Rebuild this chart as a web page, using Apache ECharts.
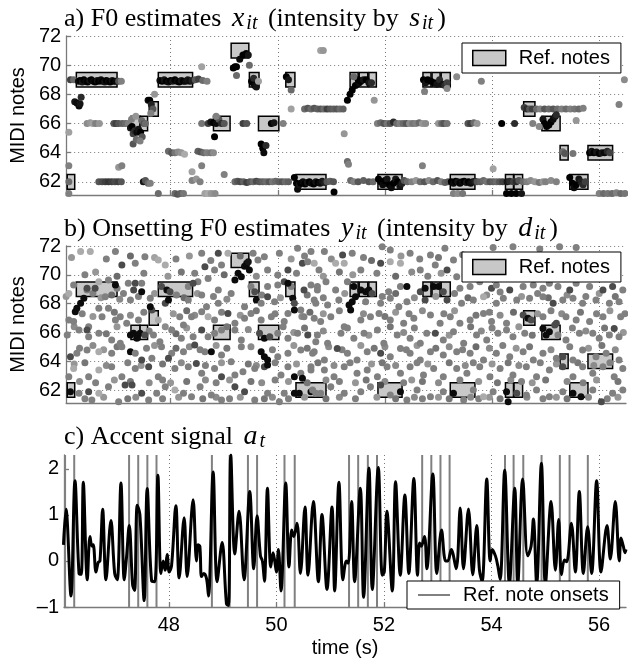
<!DOCTYPE html>
<html><head><meta charset="utf-8">
<script src="https://cdn.jsdelivr.net/npm/echarts@6/dist/echarts.min.js"></script>
<style>html,body{margin:0;padding:0;background:#fff}#c{width:628px;height:659px}</style>
</head><body><div id="c"></div>
<script>
// ---------- data ----------
const xTicks = [48, 50, 52, 54, 56];
const pitchTicks = [62, 64, 66, 68, 70, 72];
const accentTicks = [-1, 0, 1, 2];

// reference notes: [start (s), end (s), MIDI pitch]
const refNotes = [
  [46.07,46.21,62],[46.24,47.00,69],[47.26,47.43,66],[47.43,47.57,66],[47.60,47.77,67],
  [47.77,48.41,69],[48.80,49.11,66],[49.13,49.46,71],[49.47,49.65,69],[49.64,50.02,66],
  [50.15,50.32,69],[50.34,50.90,62],[51.35,51.50,69],[51.52,51.68,69],[51.70,51.84,69],
  [51.87,52.32,62],[52.71,52.86,69],[52.88,53.03,69],[53.05,53.22,69],[53.22,53.68,62],
  [54.25,54.40,62],[54.41,54.57,62],[54.59,54.80,67],[54.93,55.27,66],[55.27,55.42,64],
  [55.45,55.79,62],[55.79,56.25,64]
];
const onsets = refNotes.map(n => n[0]);

// a) F0 estimates: [time, pitch, intensity s]
const f0Est = [
[46.04,69.0,0.4],[46.13,69.0,0.7],[46.19,69.0,0.5],
[46.28,68.9,0.95],[46.31,68.95,1],[46.35,68.85,0.9],[46.38,69.0,1],[46.42,68.9,0.95],[46.45,68.85,1],[46.49,68.95,0.9],[46.52,69.0,1],[46.56,68.9,0.95],[46.59,68.85,1],[46.63,68.95,0.9],[46.66,68.9,1],[46.70,69.0,0.95],[46.73,68.9,1],[46.77,68.85,0.9],[46.80,68.95,1],[46.84,68.9,0.95],[46.87,68.85,1],[46.91,68.95,0.9],[46.94,68.9,1],[46.98,68.9,0.95],
[47.03,68.9,0.6],[47.08,68.9,0.4],
[46.21,67.5,0.9],[46.25,67.4,0.95],[46.29,67.2,0.95],[46.31,67.35,0.9],[46.33,67.8,0.8],
[46.44,66.0,0.35],[46.5,66.05,0.3],[46.55,66.0,0.25],[46.6,66.0,0.4],[46.67,66.0,0.3],
[46.94,66.0,0.6],[46.98,66.0,0.7],[47.03,66.0,0.6],[47.1,66.0,0.55],[47.16,66.0,0.5],[47.21,66.0,0.4],
[47.25,65.7,0.9],[47.28,65.8,1],[47.3,65.3,0.7],[47.33,65.5,0.8],[47.37,65.4,0.95],[47.4,65.6,0.9],[47.44,65.4,1],[47.47,65.1,0.6],[47.3,64.6,0.6],[47.36,64.9,0.5],[47.43,64.8,0.4],[47.27,66.3,0.4],[47.35,66.5,0.3],[47.46,66.2,0.5],[47.5,66.0,0.6],[47.53,66.0,0.5],
[47.58,67.6,0.95],[47.61,67.6,1],[47.64,67.3,0.85],[47.67,67.0,0.6],[47.7,68.0,0.3],[47.63,66.7,0.4],
[47.80,68.95,0.95],[47.84,68.9,1],[47.88,69.0,0.9],[47.92,68.9,1],[47.96,68.85,0.95],[48.0,68.95,1],[48.04,68.9,0.9],[48.08,69.0,1],[48.12,68.9,0.95],[48.16,68.85,1],[48.20,68.95,0.9],[48.24,68.9,1],[48.28,68.9,0.95],[48.32,69.0,0.9],[48.36,68.9,0.95],[48.40,68.95,0.85],
[48.46,69.0,0.6],[48.52,69.05,0.7],[48.6,68.95,0.5],[48.68,68.9,0.4],
[46.66,62.0,0.6],[46.72,62.0,0.65],[46.78,62.0,0.7],[46.84,62.0,0.75],[46.9,62.0,0.7],[46.96,62.0,0.65],[47.02,62.0,0.7],[47.08,62.0,0.6],
[47.49,62.0,0.9],[47.53,62.1,0.6],[47.58,61.9,0.5],[47.62,61.9,0.4],
[46.1,62.0,0.5],[46.1,63.1,0.4],[46.1,65.4,0.25],[46.1,61.2,0.4],
[47.03,63.0,0.3],[47.09,63.1,0.4],
[47.96,64.1,0.5],[48.02,64.0,0.6],[48.08,64.0,0.45],[48.14,64.05,0.35],[48.2,64.0,0.3],[48.26,63.9,0.2],
[48.51,64.1,0.55],[48.56,64.05,0.6],[48.62,64.0,0.5],[48.68,64.0,0.4],[48.75,64.0,0.45],[48.8,64.0,0.35],
[47.77,61.2,0.5],[48.08,61.2,0.5],[48.13,61.15,0.6],[48.18,61.2,0.55],[48.24,61.2,0.45],[48.64,61.2,0.25],[48.7,61.2,0.2],[48.76,61.2,0.3],[48.83,61.2,0.35],
[48.4,62.1,0.4],[48.48,62.2,0.3],[48.55,62.0,0.4],
[49.2,62.0,0.5],[49.25,62.05,0.6],[49.3,62.0,0.65],[49.36,62.0,0.55],[49.42,61.95,0.7],[49.48,62.0,0.6],[49.54,62.0,0.5],[49.6,62.05,0.65],[49.66,62.0,0.6],[49.72,62.0,0.55],[49.78,62.0,0.5],[49.84,62.0,0.6],[49.9,62.0,0.45],[49.96,62.05,0.5],[50.02,62.0,0.55],[50.08,62.0,0.6],[50.14,62.0,0.5],[50.2,62.0,0.55],
[48.58,69.9,0.25],[48.58,66.0,0.45],
[48.7,66.0,0.7],[48.75,66.1,0.9],[48.8,66.05,1],[48.85,66.0,0.95],[48.9,66.3,0.6],[48.95,66.0,0.8],[49.0,66.0,0.6],[48.85,66.5,0.4],
[49.35,66.0,0.7],[49.42,66.0,0.6],[50.1,66.0,0.4],
[48.82,65.1,1],[49.0,62.5,0.4],[48.58,63.1,0.4],[48.4,62.7,0.25],
[49.17,69.8,1],[49.2,69.9,1],[49.23,69.9,1],[49.29,70.4,0.95],[49.35,70.7,1],[49.41,70.8,1],[49.45,70.7,0.9],[49.23,69.3,0.5],[49.47,70.0,0.5],
[49.51,68.9,1],[49.54,68.8,1],[49.57,68.6,0.95],[49.6,68.5,0.9],[49.55,69.1,0.8],
[49.64,68.9,0.25],
[49.69,64.6,1],[49.72,64.3,1],[49.74,64.0,0.95],[49.78,64.5,0.8],
[49.88,66.0,1],[49.93,66.05,0.9],
[50.16,69.2,1],[50.2,69.0,0.9],[50.25,68.3,0.5],[50.25,67.0,0.25],
[50.31,62.3,1],[50.35,61.9,1],[50.37,61.5,0.95],[50.4,61.8,0.9],
[50.43,61.9,1],[50.47,62.0,0.95],[50.51,61.85,1],[50.55,61.95,0.9],[50.59,62.0,1],[50.63,61.9,0.95],[50.67,61.85,1],[50.71,62.0,0.9],[50.75,61.95,1],[50.79,61.9,0.95],[50.83,62.05,0.9],[50.87,61.95,0.85],
[50.8,71.0,0.25],[50.85,71.0,0.3],
[50.5,67.0,0.5],[50.56,67.05,0.6],[50.62,67.0,0.5],[50.68,67.05,0.6],[50.74,67.0,0.55],[50.8,67.0,0.6],[50.86,67.0,0.5],[50.92,67.0,0.7],[50.98,67.0,0.6],[51.04,67.0,0.55],[51.1,67.0,0.6],[51.16,67.0,0.5],[51.22,67.0,0.55],
[51.3,67.6,1],[51.35,68.0,1],[51.39,68.3,1],[51.45,68.6,1],[51.52,68.8,0.95],
[51.5,69.0,1],[51.55,68.9,1],[51.6,69.0,0.9],[51.65,69.0,1],[51.7,68.8,0.9],[51.75,68.8,0.8],[51.42,69.2,0.5],
[51.8,67.6,0.3],[51.24,65.3,0.3],[51.3,63.4,0.5],[51.32,63.2,0.4],
[50.92,62.0,0.6],[50.98,62.05,0.55],[51.04,62.0,0.6],[51.36,62.1,0.5],[51.42,62.0,0.4],[51.5,62.0,0.6],[51.6,62.1,0.55],[51.7,62.0,0.6],[51.78,62.0,0.5],
[51.88,62.2,1],[51.92,62.0,1],[51.96,61.8,0.95],[52.0,62.1,1],[52.04,62.2,0.9],[52.08,61.8,1],[52.12,61.6,0.95],[52.16,61.9,1],[52.2,62.2,0.9],[52.24,62.0,1],[52.28,61.7,0.9],[52.32,61.9,0.85],
[52.36,62.1,0.6],[52.42,62.0,0.5],[51.05,61.3,1],
[51.86,66.0,0.4],[51.92,66.05,0.5],[51.98,66.0,0.6],[52.04,66.0,0.45],[52.1,66.0,0.6],[52.16,66.1,0.8],[52.22,66.0,0.5],[52.28,66.0,0.4],[52.34,66.0,0.5],[52.4,66.0,0.6],[52.46,66.0,0.35],[52.52,66.0,0.45],[52.58,66.0,0.4],[52.64,66.05,0.5],[52.7,66.0,0.3],[52.76,66.0,0.35],[53.0,66.0,0.3],[53.06,66.0,0.5],[53.1,66.0,0.6],[53.16,66.0,0.45],[53.55,66.0,0.6],[53.6,66.0,0.7],[53.66,66.05,0.5],[53.72,66.0,0.3],[54.18,66.0,1],[54.42,66.0,0.8],
[52.72,69.0,1],[52.76,68.8,0.9],[52.8,69.0,1],[52.86,68.9,1],[52.92,68.8,1],[52.97,68.7,0.9],[53.02,69.0,0.8],[53.08,68.7,0.9],[53.12,68.6,0.8],[53.16,68.8,0.7],[52.74,68.2,0.4],[53.16,68.4,0.35],[53.34,69.2,0.35],[53.8,68.9,0.4],
[52.5,62.0,0.4],[52.58,62.1,0.3],[52.66,62.0,0.5],[52.74,62.0,0.6],[52.82,62.1,0.35],[52.9,62.0,0.5],[52.98,62.1,0.6],[53.05,62.0,0.4],[53.12,61.95,0.55],[53.18,62.0,0.6],
[53.24,62.0,1],[53.28,61.9,0.95],[53.32,62.05,1],[53.36,62.0,0.9],[53.4,61.9,1],[53.44,62.0,0.95],[53.48,62.05,1],[53.52,61.95,0.9],[53.56,62.0,1],[53.6,61.9,0.95],[53.64,62.0,0.9],[53.68,62.05,0.85],
[53.72,62.0,0.6],[53.78,62.0,0.55],[53.84,62.1,0.5],[53.9,62.0,0.45],[53.96,62.0,0.6],[54.02,62.0,0.55],[54.08,62.0,0.5],[54.14,62.0,0.6],[54.2,62.0,0.7],
[54.28,62.0,0.9],[54.33,62.05,0.8],[54.4,62.0,0.7],[54.45,62.0,0.8],[54.5,62.1,0.6],[54.58,62.0,0.5],[54.65,62.0,0.4],[54.72,62.1,0.35],[54.8,62.0,0.3],[54.88,61.95,0.45],[54.95,62.0,0.3],
[54.02,62.9,0.25],[52.7,63.1,0.4],
[53.28,61.2,0.4],[53.36,61.2,0.35],[53.45,61.2,0.45],[54.27,61.2,1],[54.36,61.2,1],[54.45,61.2,1],[54.55,61.2,0.9],
[54.6,67.1,0.7],[54.65,67.0,0.8],[54.7,67.0,0.6],[54.75,67.0,0.7],
[54.83,67.0,0.5],[54.9,67.0,0.4],[54.98,67.0,0.6],[55.06,67.0,0.5],[55.14,67.0,0.6],[55.22,67.0,0.5],[55.3,67.0,0.4],[55.38,67.0,0.5],[55.46,67.0,0.4],[55.54,67.0,0.45],[55.62,67.0,0.5],[55.7,67.05,0.4],
[54.95,66.3,0.9],[54.98,66.0,1],[55.02,65.8,1],[55.06,65.9,1],[55.1,66.1,1],[55.14,66.3,0.95],[55.18,66.5,0.9],[55.2,66.6,0.8],
[54.76,66.0,0.4],[54.88,65.8,0.35],[55.57,66.2,0.3],
[55.32,64.06,0.5],[55.36,63.95,0.6],[55.51,63.95,0.45],
[55.82,64.0,1],[55.86,64.1,0.9],[55.9,64.0,1],[55.95,64.05,0.9],[56.0,63.95,1],[56.05,64.0,0.9],[56.1,64.0,0.95],[56.15,64.1,0.8],[56.2,64.0,0.7],
[55.45,62.3,1],[55.5,61.9,1],[55.53,61.6,0.95],[55.57,61.8,1],[55.62,62.2,0.9],[55.66,62.0,0.85],[55.7,61.8,0.8],[55.74,62.0,0.7],
[55.0,62.0,0.4],[55.1,62.1,0.35],[55.2,62.0,0.4],
[56.0,61.2,0.4],[56.08,61.2,0.5],[56.16,61.2,0.45],[56.24,61.2,0.5],[56.32,61.25,0.4],[56.4,61.2,0.5],[56.48,61.2,0.45],
[56.47,69.0,0.35],[56.37,67.3,0.4]
];

// b) onsetting F0 estimates: [time, pitch, intensity d]
const onsetEst = [
[46.32,71.61,0.2],[46.50,71.61,0.2],[46.97,71.61,0.4],[47.52,71.26,0.4],[48.58,71.49,0.4],[48.89,71.49,0.65],[49.07,71.49,0.2],[49.54,71.49,0.4],[49.75,71.26,0.4],[50.03,71.49,0.4],[50.37,71.84,0.4],[50.62,71.61,0.4],
[47.09,70.68,0.65],[47.34,70.80,0.4],[47.77,71.03,0.2],[47.90,70.68,0.2],[48.45,70.10,0.4],[48.64,70.56,0.65],[48.82,70.33,0.4],[48.95,70.68,0.4],[49.63,71.03,0.4],[49.81,70.33,0.4],[50.0,69.99,0.4],[50.19,70.33,0.65],[50.46,70.80,0.65],[50.56,70.91,0.4],[50.68,70.80,0.2],
[46.19,69.29,0.4],[46.44,68.94,0.4],[46.66,69.52,0.2],[46.84,69.64,0.4],[47.0,69.06,0.4],[47.21,69.41,0.4],[47.34,69.41,0.65],[47.46,69.41,0.4],[48.33,69.18,0.4],[48.51,69.52,0.4],[48.70,69.75,0.4],[48.89,68.94,0.4],
[49.20,69.64,0.95],[49.26,70.1,0.95],[49.32,69.87,0.95],[49.38,70.6,0.95],[49.42,70.8,0.95],[49.45,70.9,0.9],[49.47,70.33,0.95],
[49.50,69.18,0.4],[49.81,69.18,0.4],[50.0,69.29,0.4],[50.12,69.52,0.65],[50.25,69.18,0.4],[50.49,68.94,0.65],[50.74,69.18,0.4],
[46.10,68.71,0.2],[46.32,68.02,0.95],[46.38,68.37,0.95],[46.44,69.06,0.65],[46.59,69.06,0.65],[46.78,68.48,0.4],[46.97,69.29,0.95],[47.12,68.71,0.4],[47.25,68.25,0.4],[47.31,68.94,0.65],[47.46,68.83,0.95],[47.62,68.37,0.4],[47.83,69.18,0.65],[47.93,68.94,0.95],[47.99,68.83,0.65],[48.11,68.60,0.4],[48.33,68.25,0.4],[48.42,69.41,0.65],[48.58,68.60,0.4],[48.67,67.79,0.4],[48.89,68.02,0.4],[49.13,68.71,0.4],[49.38,67.79,0.4],[49.57,68.83,0.65],[49.60,68.25,0.95],[49.69,68.02,0.4],[49.81,68.48,0.65],[49.94,68.13,0.4],[50.19,69.41,0.95],[50.28,68.37,0.95],[50.31,68.02,0.65],[50.43,67.56,0.4],[50.68,68.25,0.4],
[46.10,66.86,0.4],[46.19,66.75,0.4],[46.22,67.44,0.95],[46.25,67.67,0.95],[46.47,66.40,0.4],[46.66,67.67,0.4],[46.72,67.09,0.4],[46.84,67.67,0.4],[46.97,66.86,0.4],[47.06,67.09,0.4],[47.18,66.63,0.4],[47.40,66.86,0.4],[47.65,67.56,0.65],[47.62,67.79,0.95],[47.77,66.86,0.2],[47.90,68.02,0.65],[47.96,68.25,0.95],[48.17,67.09,0.4],[48.24,66.51,0.4],[48.39,67.09,0.4],[48.58,67.44,0.4],[48.70,67.09,0.2],[48.82,66.86,0.4],[49.07,67.32,0.65],[49.20,66.63,0.4],[49.38,66.98,0.4],[49.50,67.32,0.4],[49.69,66.86,0.4],[49.88,67.09,0.4],[50.12,66.75,0.4],[50.19,67.32,0.4],[50.31,67.56,0.95],[50.49,67.09,0.4],[50.68,66.98,0.4],
[46.07,65.82,0.4],[46.29,66.17,0.4],[46.44,66.17,0.65],[46.47,65.70,0.4],[46.66,65.94,0.4],[46.90,65.47,0.4],[47.06,65.24,0.4],[47.25,65.82,0.95],[47.31,65.94,0.95],[47.37,65.59,0.95],[47.43,65.94,0.95],[47.52,65.82,0.65],[47.68,65.82,0.4],[47.80,65.36,0.4],[48.02,66.17,0.4],[48.20,65.59,0.4],[48.42,65.70,0.4],[48.58,66.17,0.65],[48.82,65.94,0.4],[48.95,66.17,0.4],[49.20,66.17,0.4],[49.32,65.47,0.4],[49.66,65.94,0.65],[49.75,65.59,0.95],[49.85,65.70,0.65],[50.0,65.94,0.4],[50.19,65.59,0.4],[50.37,65.94,0.4],[50.56,65.82,0.65],[50.71,65.36,0.4],
[46.13,64.31,0.65],[46.25,64.55,0.4],[46.44,64.78,0.4],[46.66,64.66,0.2],[46.90,64.55,0.4],[47.09,65.01,0.4],[47.25,64.66,0.95],[47.34,64.55,0.4],[47.46,64.08,0.65],[47.65,64.20,0.4],[47.83,65.01,0.4],[48.02,64.55,0.4],[48.24,64.66,0.4],[48.45,65.13,0.65],[48.64,64.66,0.4],[48.76,64.66,0.95],[48.95,64.43,0.4],[49.13,63.97,0.4],[49.32,65.01,0.4],[49.69,64.66,0.95],[49.75,64.31,0.95],[49.81,64.08,0.95],[50.0,64.31,0.4],[50.19,64.55,0.4],[50.43,64.78,0.4],[50.65,64.55,0.4],
[46.10,62.93,0.4],[46.19,63.50,0.2],[46.47,62.93,0.4],[46.66,63.39,0.2],[46.90,63.62,0.4],[47.09,62.93,0.4],[47.34,63.50,0.4],[47.59,63.62,0.65],[47.77,62.93,0.4],[47.96,64.20,0.65],[48.08,63.50,0.4],[48.33,63.62,0.4],[48.48,63.85,0.65],[48.58,63.16,0.4],[48.82,63.50,0.4],[48.95,62.93,0.65],[49.20,63.04,0.4],[49.35,63.27,0.4],[49.57,63.50,0.4],[49.75,63.62,0.65],[49.81,63.74,0.95],[50.06,63.04,0.4],[50.19,63.62,0.4],[50.31,62.93,0.95],[50.43,63.16,0.4],[50.62,63.39,0.4],
[46.13,61.88,0.95],[46.29,61.77,0.4],[46.47,61.88,0.65],[46.53,61.31,0.4],[46.66,61.77,0.2],[46.84,62.23,0.4],[47.03,61.19,0.4],[47.15,62.35,0.65],[47.28,62.35,0.65],[47.46,61.77,0.65],[47.59,61.31,0.4],[47.74,61.77,0.4],[47.90,62.23,0.4],[48.08,62.0,0.2],[48.24,61.77,0.4],[48.39,61.54,0.4],[48.55,62.23,0.4],[48.76,61.65,0.4],[48.95,61.31,0.4],[49.20,62.23,0.65],[49.38,61.88,0.65],[49.57,61.31,0.4],[49.81,61.77,0.4],[50.03,61.19,0.4],[50.12,61.77,0.4],[50.31,61.77,0.95],[50.40,61.77,0.95],[50.46,62.81,0.95],[50.62,61.88,0.95],[50.71,61.77,0.4],[46.13,61.07,0.4],
[50.87,71.61,0.4],[51.21,71.38,0.65],[51.39,71.49,0.4],[51.95,71.95,0.4],[52.10,71.72,0.4],[52.47,71.49,0.4],[52.85,71.38,0.4],[53.12,71.84,0.4],[53.28,71.03,0.4],[54.02,71.9,0.4],[54.39,71.95,0.4],[54.89,71.8,0.4],[55.26,71.95,0.4],[55.57,71.9,0.4],
[50.77,70.33,0.4],[51.08,70.80,0.2],[51.24,70.80,0.2],[51.55,70.33,0.4],[51.92,70.80,0.65],[52.10,70.91,0.2],[52.29,70.80,0.2],[52.66,70.33,0.4],[52.94,70.68,0.4],[53.16,70.33,0.65],[53.34,69.87,0.4],
[50.62,69.29,0.4],[50.74,68.94,0.4],[50.90,69.52,0.4],[51.08,68.94,0.4],[51.30,69.52,0.4],[51.42,69.18,0.95],[51.55,68.94,0.95],[51.64,68.83,0.95],[51.70,68.94,0.95],[51.76,68.71,0.65],[52.07,68.83,0.4],[52.29,69.18,0.4],[52.41,69.18,0.95],[52.66,68.83,0.65],[52.75,69.06,0.95],[52.91,69.18,0.95],[53.0,69.18,0.95],[53.09,68.83,0.65],[53.40,69.06,0.4],[53.59,69.18,0.4],[53.77,69.52,0.4],[53.99,69.06,0.65],[54.08,69.29,0.4],[54.33,68.94,0.65],[54.58,69.18,0.4],[54.77,69.29,0.4],[54.95,69.06,0.4],[55.07,69.41,0.4],[55.23,69.18,0.4],[55.45,68.94,0.65],[55.57,69.41,0.4],[55.82,69.18,0.4],[56.07,68.94,0.65],[56.25,69.18,0.65],[56.44,68.94,0.4],
[50.71,68.02,0.4],[50.93,67.90,0.4],[51.14,68.25,0.4],[51.33,67.90,0.95],[51.39,68.13,0.95],[51.45,68.48,0.95],[51.64,68.13,0.4],[51.92,68.02,0.4],[52.10,68.37,0.4],[52.26,67.79,0.4],[52.41,68.13,0.4],[52.75,68.25,0.65],[53.16,68.25,0.65],[53.43,68.02,0.4],[53.65,68.25,0.4],[53.84,68.48,0.2],[54.08,68.02,0.4],[54.21,68.37,0.4],[54.46,68.25,0.4],[54.70,68.37,0.4],[54.95,68.48,0.4],[55.14,68.02,0.65],[55.32,68.25,0.4],[55.51,68.37,0.4],[55.69,68.02,0.4],[55.94,68.25,0.4],[56.19,68.02,0.4],[56.37,68.13,0.4],
[50.80,66.75,0.4],[50.99,67.09,0.4],[51.24,66.40,0.4],[51.36,67.56,0.95],[51.55,66.86,0.4],[51.73,67.09,0.4],[51.89,67.32,0.4],[52.10,66.86,0.4],[52.35,66.63,0.4],[52.54,66.98,0.4],[52.85,67.21,0.4],[53.03,66.63,0.4],[53.22,67.09,0.4],[53.40,66.63,0.4],[53.59,66.86,0.4],[53.84,67.32,0.4],[53.99,66.75,0.4],[54.27,66.63,0.4],[54.58,67.21,0.65],[54.67,66.98,0.95],[54.73,66.86,0.65],[54.95,67.09,0.4],[55.20,66.63,0.65],[55.38,67.09,0.4],[55.57,66.86,0.4],[55.82,66.75,0.4],[56.07,67.09,0.4],[56.28,66.28,0.65],[56.40,67.09,0.4],
[50.74,65.82,0.4],[50.93,65.24,0.4],[51.18,65.94,0.4],[51.42,65.59,0.4],[51.61,65.94,0.4],[51.86,66.17,0.4],[51.98,65.24,0.4],[52.23,65.82,0.4],[52.47,65.59,0.4],[52.66,65.24,0.4],[52.78,65.94,0.4],[52.94,65.94,0.65],[53.09,65.47,0.4],[53.28,66.05,0.4],[53.47,65.24,0.4],[53.71,65.82,0.4],[53.90,65.47,0.4],[54.11,65.94,0.4],[54.27,66.17,0.4],[54.39,65.70,0.4],[54.61,65.94,0.4],[54.95,66.28,0.95],[55.01,65.82,0.95],[55.07,66.05,0.95],[55.17,66.51,0.65],[55.23,65.82,0.4],[55.38,65.47,0.4],[55.63,65.94,0.4],[55.88,65.94,0.4],[56.0,65.59,0.4],[56.19,65.82,0.4],[56.37,65.70,0.4],
[50.68,64.66,0.4],[50.87,64.08,0.4],[51.11,64.89,0.65],[51.30,64.55,0.4],[51.48,64.08,0.4],[51.67,64.66,0.4],[51.92,64.55,0.65],[52.10,64.31,0.4],[52.29,64.89,0.4],[52.47,64.55,0.4],[52.66,64.08,0.4],[52.85,64.66,0.4],[53.09,64.43,0.4],[53.34,64.66,0.4],[53.59,64.55,0.4],[53.84,64.08,0.4],[54.08,64.55,0.4],[54.33,64.31,0.4],[54.58,64.66,0.4],[54.77,64.08,0.4],[54.95,64.55,0.4],[55.20,64.20,0.4],[55.32,64.31,0.65],[55.51,64.08,0.4],[55.69,64.78,0.4],[55.94,64.31,0.4],[56.13,64.55,0.4],[56.37,64.08,0.4],
[50.62,63.62,0.4],[50.87,63.39,0.4],[51.05,62.93,0.4],[51.24,63.62,0.4],[51.48,63.16,0.4],[51.67,63.39,0.4],[51.86,62.93,0.4],[52.04,63.62,0.4],[52.29,63.16,0.4],[52.47,63.62,0.4],[52.72,63.04,0.4],[52.91,63.50,0.4],[53.09,62.93,0.4],[53.34,63.50,0.4],[53.53,63.16,0.4],[53.77,63.62,0.4],[53.96,62.93,0.4],[54.15,63.50,0.4],[54.39,63.04,0.4],[54.64,63.62,0.4],[54.83,62.93,0.4],[55.07,63.39,0.4],[55.32,63.62,0.65],[55.51,62.93,0.4],[55.69,63.62,0.4],[55.88,63.16,0.4],[56.07,63.62,0.4],[56.28,62.93,0.4],[56.44,63.50,0.4],
[50.65,62.0,0.4],[50.80,61.77,0.4],[50.99,62.23,0.4],[51.24,61.77,0.4],[51.36,61.07,0.4],[51.55,61.88,0.4],[51.73,62.23,0.4],[51.92,62.35,0.65],[52.10,61.65,0.4],[52.29,61.88,0.95],[52.41,61.31,0.4],[52.60,62.0,0.4],[52.85,61.54,0.4],[53.09,61.88,0.4],[53.28,61.77,0.95],[53.47,61.31,0.4],[53.65,62.0,0.4],[53.84,61.54,0.2],[54.02,61.88,0.4],[54.27,61.88,0.95],[54.30,61.19,0.95],[54.46,61.77,0.65],[54.64,61.65,0.4],[54.83,62.0,0.4],[55.07,61.54,0.4],[55.32,61.88,0.4],[55.51,61.77,0.95],[55.66,61.54,0.95],[55.88,62.0,0.4],[56.04,61.19,0.65],[56.25,61.77,0.4],[56.44,62.0,0.4]
];
// b) further onsetting estimates filling the denser regions of the cloud
const onsetEst2 = [
[46.15,71.2,0.3],[46.8,71.1,0.4],[47.25,71.3,0.5],[47.7,71.2,0.25],[48.1,71.1,0.4],[48.35,71.3,0.3],[48.75,71.0,0.4],[49.3,71.3,0.5],[50.25,71.1,0.3],[50.5,71.3,0.4],[51.0,71.1,0.35],[51.6,71.2,0.4],[51.75,71.0,0.5],[52.3,71.3,0.3],[52.65,71.1,0.4],[53.0,71.2,0.45],[53.45,71.4,0.4],
[46.4,70.0,0.4],[46.6,70.2,0.3],[47.0,69.9,0.5],[47.5,70.1,0.4],[47.95,69.9,0.3],[48.2,70.2,0.45],[49.0,70.0,0.5],[49.6,69.9,0.35],[50.35,70.1,0.4],[50.85,69.9,0.3],[51.15,70.2,0.45],[51.4,70.0,0.3],[51.85,70.1,0.4],[52.2,69.9,0.5],[52.5,70.2,0.35],[52.8,69.9,0.4],[53.05,70.1,0.3],[53.5,70.0,0.4],
[46.05,68.5,0.3],[46.55,68.7,0.4],[46.7,68.4,0.3],[46.9,68.6,0.5],[47.05,68.3,0.35],[47.4,68.5,0.4],[47.7,68.7,0.3],[48.25,68.4,0.5],[48.5,68.7,0.3],[48.8,68.5,0.4],[49.05,68.3,0.35],[49.7,68.6,0.4],[50.05,68.4,0.3],[50.55,68.6,0.45],[50.85,68.4,0.4],[51.25,68.7,0.3],[51.95,68.5,0.4],[52.2,68.7,0.5],[52.55,68.4,0.35],[52.95,68.5,0.3],[53.3,68.7,0.4],[53.55,68.4,0.5],[53.9,68.6,0.35],[54.15,68.8,0.4],[54.55,68.5,0.3],[54.85,68.7,0.4],[55.05,68.4,0.5],[55.4,68.6,0.35],[55.75,68.5,0.4],[56.0,68.7,0.3],[56.3,68.5,0.45],
[46.35,67.3,0.4],[46.55,67.1,0.3],[46.95,67.4,0.45],[47.25,67.2,0.35],[47.5,67.4,0.4],[48.05,67.3,0.3],[48.3,67.5,0.5],[48.45,67.2,0.35],[48.95,67.4,0.4],[49.3,67.2,0.3],[49.6,67.5,0.45],[49.95,67.3,0.4],[50.45,67.1,0.35],[50.6,67.4,0.5],[50.85,67.3,0.3],[51.15,67.5,0.4],[51.6,67.3,0.35],[52.0,67.1,0.45],[52.2,67.4,0.3],[52.45,67.3,0.4],[52.7,67.5,0.35],[53.1,67.3,0.4],[53.3,67.5,0.3],[53.7,67.2,0.45],[53.95,67.4,0.4],[54.15,67.2,0.35],[54.4,67.4,0.5],[54.85,67.3,0.3],[55.1,67.5,0.4],[55.3,67.3,0.35],[55.65,67.4,0.45],[55.95,67.3,0.4],[56.2,67.5,0.3],[56.48,67.3,0.4],
[46.2,66.4,0.35],[46.8,65.9,0.45],[47.0,66.4,0.3],[47.6,66.1,0.4],[47.9,66.4,0.35],[48.1,65.9,0.5],[48.3,66.3,0.3],[48.7,65.7,0.4],[49.05,66.4,0.45],[49.45,66.2,0.35],[50.1,66.4,0.4],[50.3,66.0,0.3],[50.5,66.3,0.45],[50.85,66.1,0.35],[51.3,66.3,0.4],[51.7,65.8,0.3],[52.1,66.4,0.45],[52.35,66.0,0.35],[52.55,66.3,0.4],[53.2,65.8,0.3],[53.6,66.4,0.45],[53.8,66.1,0.35],[54.0,66.3,0.4],[54.5,66.4,0.3],[54.75,65.8,0.45],[55.5,66.3,0.4],[55.75,66.1,0.35],[56.1,66.3,0.45],[56.45,66.0,0.3],
[46.3,64.9,0.4],[46.55,65.1,0.35],[46.75,64.8,0.3],[47.0,65.0,0.45],[47.55,64.9,0.4],[47.7,65.1,0.3],[48.1,64.9,0.5],[48.35,65.0,0.35],[48.55,64.8,0.4],[48.85,65.1,0.3],[49.05,64.9,0.45],[49.5,65.0,0.35],[49.9,64.8,0.4],[50.3,65.1,0.3],[50.55,64.9,0.45],[50.95,65.0,0.35],[51.2,64.8,0.4],[51.55,65.1,0.3],[51.8,64.9,0.45],[52.0,65.0,0.35],[52.4,64.8,0.4],[52.6,65.1,0.3],[52.95,64.9,0.45],[53.2,65.0,0.35],[53.45,64.8,0.4],[53.7,65.0,0.5],[53.95,64.9,0.35],[54.2,65.1,0.4],[54.45,64.9,0.3],[54.7,65.0,0.45],[55.1,64.8,0.35],[55.45,65.0,0.4],[55.8,64.9,0.3],[56.05,65.1,0.45],[56.3,64.8,0.35],
[46.2,63.8,0.3],[46.4,63.9,0.45],[46.8,63.7,0.35],[47.2,63.9,0.4],[47.45,63.7,0.3],[47.85,63.8,0.45],[48.2,63.9,0.35],[48.65,63.7,0.4],[48.95,63.9,0.3],[49.45,63.8,0.45],[49.6,63.7,0.35],[49.95,63.9,0.4],[50.35,63.8,0.3],[50.75,63.9,0.45],[51.05,63.7,0.35],[51.35,63.9,0.4],[51.75,63.8,0.3],[51.95,63.9,0.45],[52.2,63.7,0.35],[52.6,63.9,0.4],[52.8,63.8,0.3],[53.2,63.9,0.45],[53.5,63.7,0.35],[53.65,63.9,0.4],[54.0,63.8,0.3],[54.3,63.9,0.45],[54.5,63.7,0.35],[54.9,63.9,0.4],[55.2,63.8,0.3],[55.6,63.9,0.45],[55.9,63.7,0.35],[56.2,63.9,0.4],
[46.3,62.6,0.35],[46.6,62.5,0.4],[46.95,62.7,0.3],[47.25,62.6,0.45],[47.6,62.5,0.35],[47.85,62.7,0.4],[48.0,62.5,0.3],[48.3,62.6,0.45],[48.65,62.7,0.35],[48.85,62.5,0.4],[49.1,62.7,0.3],[49.5,62.6,0.45],[49.7,62.5,0.35],[49.95,62.7,0.4],[50.2,62.6,0.3],[50.55,62.5,0.45],[50.9,62.7,0.35],[51.15,62.6,0.4],[51.45,62.5,0.3],[51.65,62.7,0.45],[52.0,62.6,0.35],[52.35,62.5,0.4],[52.5,62.7,0.3],[52.7,62.6,0.45],[53.0,62.5,0.35],[53.4,62.7,0.4],[53.75,62.6,0.3],[54.1,62.5,0.45],[54.35,62.7,0.35],[54.55,62.6,0.4],[54.75,62.5,0.3],[55.0,62.7,0.45],[55.4,62.6,0.35],[55.7,62.5,0.4],[55.95,62.7,0.3],[56.35,62.6,0.45],
[46.4,61.4,0.4],[46.75,61.5,0.3],[47.2,61.4,0.45],[47.35,61.5,0.35],[47.85,61.4,0.4],[48.15,61.5,0.3],[48.6,61.4,0.45],[48.85,61.5,0.35],[49.1,61.4,0.4],[49.3,61.5,0.3],[49.75,61.4,0.45],[49.9,61.5,0.35],[50.2,61.4,0.4],[50.5,61.5,0.3],[50.9,61.4,0.45],[51.15,61.5,0.35],[51.45,61.4,0.4],[51.85,61.5,0.3],[52.2,61.4,0.45],[52.55,61.5,0.35],[52.7,61.4,0.4],[53.0,61.5,0.3],[53.2,61.4,0.45],[53.6,61.5,0.35],[53.75,61.4,0.4],[53.95,61.5,0.3],[54.15,61.4,0.45],[54.65,61.5,0.35],[54.95,61.4,0.4],[55.2,61.5,0.3],[55.4,61.4,0.45],[55.8,61.5,0.35],[56.15,61.4,0.4],[56.35,61.5,0.3]
];

// c) accent signal: [time, a_t]
const accent = [
[46.04,0.35],[46.087,1.12],[46.18,-0.76],[46.254,1.74],[46.329,-0.27],[46.371,-0.29],[46.409,1.71],[46.483,-0.41],[46.533,0.53],[46.57,0.32],[46.594,0.35],[46.644,-0.24],[46.687,-0.03],[46.719,0.0],[46.769,1.12],[46.83,-0.41],[46.923,0.88],[46.992,-0.27],[47.04,-0.41],[47.109,1.69],[47.17,-0.41],[47.214,0.1],[47.263,0.77],[47.326,-0.52],[47.363,-0.64],[47.411,1.21],[47.461,1.01],[47.541,-0.86],[47.597,1.57],[47.679,-0.43],[47.74,-0.45],[47.796,1.86],[47.851,-0.27],[47.894,0.0],[47.931,-0.2],[47.968,0.14],[48.006,-0.24],[48.05,-0.1],[48.13,1.2],[48.191,-0.37],[48.284,0.94],[48.34,-0.34],[48.451,1.33],[48.514,0.0],[48.544,0.35],[48.576,0.32],[48.607,-0.34],[48.65,-0.27],[48.70,-0.38],[48.737,-0.76],[48.823,1.93],[48.897,-0.45],[48.99,0.4],[49.071,-0.93],[49.109,-0.97],[49.151,2.3],[49.226,0.15],[49.305,1.08],[49.398,-0.41],[49.504,1.51],[49.578,-0.17],[49.64,0.98],[49.703,0.11],[49.74,0.0],[49.777,-0.44],[49.833,1.58],[49.894,-0.13],[49.937,0.18],[49.968,0.0],[50.0,-0.24],[50.037,0.25],[50.085,-0.65],[50.173,1.69],[50.234,-0.13],[50.284,0.67],[50.321,0.53],[50.383,0.82],[50.446,-0.27],[50.531,1.17],[50.587,-0.31],[50.687,1.29],[50.78,-0.45],[50.847,1.01],[50.94,-0.62],[51.033,1.17],[51.083,-0.65],[51.162,1.71],[51.237,-0.41],[51.30,0.0],[51.337,-0.05],[51.398,1.29],[51.454,-0.45],[51.56,1.58],[51.621,-0.79],[51.72,2.02],[51.783,-0.62],[51.894,2.03],[51.968,-0.31],[52.006,-0.24],[52.054,1.08],[52.154,-0.65],[52.215,1.72],[52.303,-0.31],[52.388,1.43],[52.462,-0.27],[52.555,1.79],[52.624,-0.31],[52.661,0.39],[52.693,0.32],[52.754,0.53],[52.797,-0.17],[52.908,1.89],[52.982,-0.27],[53.07,0.67],[53.144,0.0],[53.187,0.0],[53.25,0.25],[53.343,-0.17],[53.417,1.15],[53.478,-0.17],[53.571,1.13],[53.651,-0.3],[53.725,0.77],[53.775,-0.2],[53.825,-0.45],[53.911,1.78],[53.974,0.0],[54.011,0.25],[54.072,0.11],[54.115,-0.1],[54.16,-0.4],[54.245,1.97],[54.332,-0.5],[54.431,1.58],[54.487,-0.5],[54.579,1.78],[54.672,0.11],[54.735,0.32],[54.778,0.91],[54.839,-0.5],[54.927,2.12],[55.001,-0.5],[55.107,1.29],[55.187,-0.2],[55.248,0.9],[55.30,-0.3],[55.354,0.02],[55.397,-0.02],[55.484,0.82],[55.558,-0.24],[55.632,1.51],[55.707,-0.27],[55.787,0.74],[55.861,-0.27],[55.954,1.74],[56.035,-0.24],[56.147,0.77],[56.208,0.04],[56.301,1.29],[56.375,0.0],[56.407,0.5],[56.45,0.32],[56.481,0.18],[56.5,0.25]
];

// ---------- chart ----------
const SANS = 'Liberation Sans';
const SERIF = 'Liberation Serif';
const AXIS_GREY = '#7a7a7a';
const X_MIN = 46.05, X_MAX = 56.5;

const grids = [
  {left: 64, top: 36, width: 562, height: 159},
  {left: 64, top: 246, width: 562, height: 157},
  {left: 64, top: 455, width: 562, height: 158}
];

function xAxis(i, showLabel) {
  return {
    type: 'value', gridIndex: i, min: X_MIN, max: X_MAX,
    axisLine: {show: true, onZero: false, lineStyle: {color: AXIS_GREY, width: 1.3}},
    axisTick: {show: true, inside: true, length: 5, customValues: xTicks, lineStyle: {color: AXIS_GREY, width: 1.3}},
    axisLabel: {show: showLabel, customValues: xTicks, fontFamily: SANS, fontSize: 20, color: '#000', margin: 8},
    splitLine: {show: true, lineStyle: {type: [1, 3], color: '#7a7a7a', width: 1}},
    name: showLabel ? 'time (s)' : '', nameLocation: 'middle', nameGap: 31,
    nameTextStyle: {fontFamily: SANS, fontSize: 20, color: '#000'}
  };
}
function pitchAxis(i) {
  return {
    type: 'value', gridIndex: i, min: 61.1, max: 72,
    axisLine: {show: true, onZero: false, lineStyle: {color: AXIS_GREY, width: 1.3}},
    axisTick: {show: true, inside: true, length: 5, customValues: pitchTicks, lineStyle: {color: AXIS_GREY, width: 1.3}},
    axisLabel: {customValues: pitchTicks, fontFamily: SANS, fontSize: 20, color: '#000', margin: 5},
    splitLine: {show: true, lineStyle: {type: [1, 3], color: '#7a7a7a', width: 1}},
    name: 'MIDI notes', nameLocation: 'middle', nameGap: 36,
    nameTextStyle: {fontFamily: SANS, fontSize: 20, color: '#000'}
  };
}

function noteRender(params, api) {
  const p0 = api.coord([api.value(0), api.value(2) + 0.5]);
  const p1 = api.coord([api.value(1), api.value(2) - 0.5]);
  return {
    type: 'rect',
    shape: {x: p0[0], y: p0[1], width: p1[0] - p0[0], height: p1[1] - p0[1]},
    style: {fill: '#c8c8c8', stroke: '#000', lineWidth: 1.5}
  };
}
function onsetRender(params, api) {
  const t = api.value(0);
  const a = api.coord([t, -1]);
  const b = api.coord([t, 2.3]);
  return {
    type: 'line',
    shape: {x1: a[0], y1: a[1], x2: b[0], y2: b[1]},
    style: {stroke: '#808080', lineWidth: 2}
  };
}

const titleRich = {
  i: {fontFamily: SERIF, fontStyle: 'italic', fontSize: 28, color: '#000', padding: [0, 1, 0, 4]},
  s: {fontFamily: SERIF, fontStyle: 'italic', fontSize: 20, color: '#000', verticalAlign: 'bottom', lineHeight: 14, padding: [0, 4, 0, 1]}
};
function title(text, top) {
  return {
    text: text, left: 64, top: top, padding: 0,
    textStyle: {fontFamily: SERIF, fontSize: 26, fontWeight: 'normal', color: '#000', lineHeight: 30, rich: titleRich}
  };
}

const legendBase = {
  orient: 'horizontal', backgroundColor: '#fff', borderColor: '#000', borderWidth: 1,
  borderRadius: 0, itemGap: 0, selectedMode: false,
  textStyle: {fontFamily: SANS, fontSize: 20, color: '#000', padding: [0, 0, 0, 8]}
};

const option = {
  animation: false,
  backgroundColor: '#fff',
  title: [
    title('a) F0 estimates {i|x}{s|it} (intensity by {i|s}{s|it})', 4),
    title('b) Onsetting F0 estimates {i|y}{s|it} (intensity by {i|d}{s|it})', 214),
    title('c) Accent signal {i|a}{s|t}', 422)
  ],
  grid: grids,
  xAxis: [xAxis(0, false), xAxis(1, false), xAxis(2, true)],
  yAxis: [
    pitchAxis(0), pitchAxis(1),
    {
      type: 'value', gridIndex: 2, min: -1, max: 2.3,
      axisLine: {show: true, onZero: false, lineStyle: {color: AXIS_GREY, width: 1.3}},
      axisTick: {show: true, inside: true, length: 5, customValues: accentTicks, lineStyle: {color: AXIS_GREY, width: 1.3}},
      axisLabel: {customValues: accentTicks, fontFamily: SANS, fontSize: 20, color: '#000', margin: 5,
        formatter: v => (v < 0 ? '\u2013' + Math.abs(v) : String(v))},
      splitLine: {show: false}
    }
  ],
  visualMap: [{
    type: 'continuous', show: false, seriesIndex: [1, 3], dimension: 2, min: 0, max: 1,
    inRange: {color: ['#d6d6d6', '#000000']}
  }],
  legend: [
    Object.assign({}, legendBase, {left: 462, top: 43, padding: [5, 11, 5, 10], itemWidth: 33, itemHeight: 15,
      data: [{name: 'Ref. notes', icon: 'rect', itemStyle: {color: '#c8c8c8', borderColor: '#000', borderWidth: 1.5}}]}),
    Object.assign({}, legendBase, {left: 462, top: 252, padding: [5, 11, 5, 10], itemWidth: 33, itemHeight: 15,
      data: [{name: 'Ref. notes', icon: 'rect', itemStyle: {color: '#c8c8c8', borderColor: '#000', borderWidth: 1.5}}]}),
    Object.assign({}, legendBase, {left: 407, top: 581, padding: [4, 11, 4, 11], itemWidth: 32, itemHeight: 2,
      data: [{name: 'Ref. note onsets', icon: 'rect', itemStyle: {color: '#808080'}}]})
  ],
  series: [
    {type: 'custom', name: 'Ref. notes', xAxisIndex: 0, yAxisIndex: 0, data: refNotes,
      encode: {x: [0, 1], y: 2}, renderItem: noteRender, clip: true, z: 1,
      itemStyle: {color: '#c8c8c8', borderColor: '#000', borderWidth: 1.5}},
    {type: 'scatter', name: 'F0 est', xAxisIndex: 0, yAxisIndex: 0, data: f0Est, symbolSize: 7, z: 2,
      itemStyle: {opacity: 1}},
    {type: 'custom', name: 'Ref. notes', xAxisIndex: 1, yAxisIndex: 1, data: refNotes,
      encode: {x: [0, 1], y: 2}, renderItem: noteRender, clip: true, z: 1,
      itemStyle: {color: '#c8c8c8', borderColor: '#000', borderWidth: 1.5}},
    {type: 'scatter', name: 'Onset est', xAxisIndex: 1, yAxisIndex: 1, data: onsetEst2.concat(onsetEst), symbolSize: 7, z: 2,
      itemStyle: {opacity: 1}},
    {type: 'custom', name: 'Ref. note onsets', xAxisIndex: 2, yAxisIndex: 2, data: onsets.map(t => [t]),
      encode: {x: 0}, renderItem: onsetRender, clip: true, z: 1, itemStyle: {color: '#808080'}},
    {type: 'line', name: 'Accent', xAxisIndex: 2, yAxisIndex: 2, data: accent, showSymbol: false, symbol: 'none',
      smooth: 0.35, clip: true, z: 3, lineStyle: {color: '#000', width: 3}, itemStyle: {color: '#000'}}
  ]
};

const chart = echarts.init(document.getElementById('c'), null, {renderer: 'canvas'});
chart.setOption(option);
</script>
</body></html>
